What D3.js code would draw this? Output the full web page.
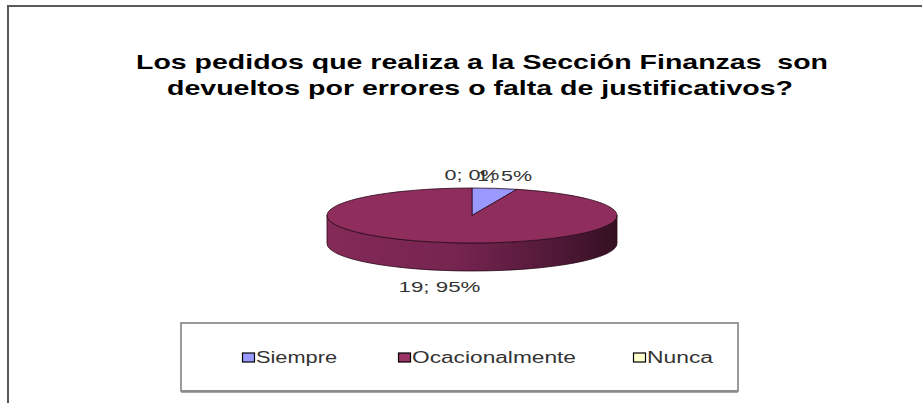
<!DOCTYPE html>
<html>
<head>
<meta charset="utf-8">
<script src="https://cdn.jsdelivr.net/npm/d3@7"></script>
<style>
  body { margin: 0; background: #fff; }
  svg { display: block; font-family: "Liberation Sans", Arial, sans-serif; }
  .title { white-space: pre; }
</style>
</head>
<body>
<svg id="chart" width="922" height="403"></svg>
<script>
// data
var categories = ["Siempre", "Ocacionalmente", "Nunca"];
var values = [1, 19, 0];
var percents = ["5%", "95%", "0%"];
var colors = ["#9999ff", "#8f2d5d", "#ffffcc"];
var legendColors = ["#9999ff", "#993366", "#ffffcc"];
var titleLines = ["Los pedidos que realiza a la Sección Finanzas  son",
                  "devueltos por errores o falta de justificativos?"];

var svg = d3.select("#chart");
var W = 922, H = 403;

// outer frame (only top and left edges show)
svg.append("path")
  .attr("d", "M8," + H + " L8,6 L" + W + ",6")
  .attr("fill", "none")
  .attr("stroke", "#5a5a5a")
  .attr("stroke-width", 2);

// title
var titleLen = [692, 626];
svg.selectAll(".title")
  .data(titleLines)
  .enter().append("text")
  .attr("class", "title")
  .attr("x", function(d, i) { return i == 0 ? 136 : 167; })
  .attr("y", function(d, i) { return 69 + i * 26; })
  .attr("textLength", function(d, i) { return titleLen[i]; })
  .attr("lengthAdjust", "spacingAndGlyphs")
  .style("font-size", "21px")
  .style("font-weight", "bold")
  .attr("fill", "#000")
  .text(function(d) { return d; });

// 3d pie
var cx = 472, cy = 215.5, rx = 145, ry = 27.5, depth = 28;

var pie = d3.pie().sort(null).startAngle(0).endAngle(2 * Math.PI);
var arcs = pie(values);

function px(a, r) { return cx + (r || rx) * Math.sin(a); }
function py(a, r) { return cy - (r || ry) * Math.cos(a); }

function topPath(d) {
  if (d.endAngle - d.startAngle <= 0) return "";
  var large = (d.endAngle - d.startAngle) > Math.PI ? 1 : 0;
  return "M" + cx + "," + cy +
    " L" + px(d.startAngle) + "," + py(d.startAngle, ry) +
    " A" + rx + "," + ry + " 0 " + large + " 1 " + px(d.endAngle) + "," + py(d.endAngle, ry) + " Z";
}

function sidePath(d) {
  // only the front half (pi/2 .. 3pi/2) is visible
  var a0 = Math.max(d.startAngle, Math.PI / 2);
  var a1 = Math.min(d.endAngle, 3 * Math.PI / 2);
  if (a1 <= a0) return "";
  return "M" + px(a0) + "," + py(a0, ry) +
    " A" + rx + "," + ry + " 0 0 1 " + px(a1) + "," + py(a1, ry) +
    " L" + px(a1) + "," + (py(a1, ry) + depth) +
    " A" + rx + "," + ry + " 0 0 0 " + px(a0) + "," + (py(a0, ry) + depth) + " Z";
}

var defs = svg.append("defs");
var grad = defs.append("linearGradient")
  .attr("id", "sideGrad")
  .attr("gradientUnits", "userSpaceOnUse")
  .attr("x1", cx - rx).attr("x2", cx + rx)
  .attr("y1", 0).attr("y2", 0);
grad.append("stop").attr("offset", "0%").attr("stop-color", "#842a57");
grad.append("stop").attr("offset", "45%").attr("stop-color", "#762450");
grad.append("stop").attr("offset", "80%").attr("stop-color", "#4f1836");
grad.append("stop").attr("offset", "100%").attr("stop-color", "#341022");

svg.selectAll(".side")
  .data(arcs)
  .enter().append("path")
  .attr("class", "side")
  .attr("d", sidePath)
  .attr("fill", "url(#sideGrad)")
  .attr("stroke", "#2a0a1a")
  .attr("stroke-width", 0.8);

svg.selectAll(".slice")
  .data(arcs)
  .enter().append("path")
  .attr("class", "slice")
  .attr("d", topPath)
  .attr("fill", function(d, i) { return colors[i]; })
  .attr("stroke", "#2a0a1a")
  .attr("stroke-width", 0.8);

// data labels
var labelRx = 208, labelRy = 35.4;
var labelLen = [55, 82, 55];
svg.selectAll(".lbl")
  .data(arcs)
  .enter().append("text")
  .attr("class", "lbl")
  .attr("x", function(d, i) {
    var mid = (d.startAngle + d.endAngle) / 2;
    return cx + labelRx * Math.sin(mid) - labelLen[i] / 2;
  })
  .attr("y", function(d) {
    var mid = (d.startAngle + d.endAngle) / 2;
    var y = cy - labelRy * Math.cos(mid);
    if (Math.cos(mid) < 0) y += depth + 14;
    return y;
  })
  .attr("textLength", function(d, i) { return labelLen[i]; })
  .attr("lengthAdjust", "spacingAndGlyphs")
  .style("font-size", "15px")
  .attr("fill", "#333")
  .text(function(d, i) { return values[i] + "; " + percents[i]; });

// legend
svg.append("rect")
  .attr("x", 181).attr("y", 323)
  .attr("width", 557).attr("height", 68)
  .attr("fill", "#fff")
  .attr("stroke", "#7a7a7a")
  .attr("stroke-width", 1.5);
svg.append("line")
  .attr("x1", 181).attr("x2", 738)
  .attr("y1", 391.5).attr("y2", 391.5)
  .attr("stroke", "#8a8a8a")
  .attr("stroke-width", 2.5);

var legendX = [242, 398, 633];
var legendLen = [81, 164, 66];
var items = svg.selectAll(".leg")
  .data(categories)
  .enter().append("g")
  .attr("class", "leg")
  .attr("transform", function(d, i) { return "translate(" + legendX[i] + ",0)"; });

items.append("rect")
  .attr("x", 0.5).attr("y", 353)
  .attr("width", 12).attr("height", 9)
  .attr("fill", function(d, i) { return legendColors[i]; })
  .attr("stroke", "#000")
  .attr("stroke-width", 1.2);

items.append("text")
  .attr("x", 14)
  .attr("y", 362.5)
  .attr("textLength", function(d, i) { return legendLen[i]; })
  .attr("lengthAdjust", "spacingAndGlyphs")
  .style("font-size", "16px")
  .attr("fill", "#333")
  .text(function(d) { return d; });
</script>
</body>
</html>
